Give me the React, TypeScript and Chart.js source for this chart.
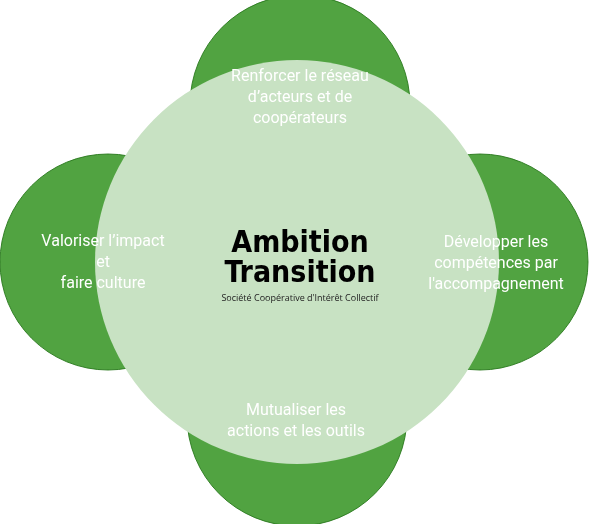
import { useEffect, useRef } from "react";
import Chart from "chart.js/auto";
import { BubbleController } from "chart.js";

// bubble controller that does not shrink the chart area by the bubble radius
class FlatBubble extends BubbleController {
  static id = "flatBubble";
  getMaxOverflow() {
    return 0 as any;
  }
}
Chart.register(FlatBubble);

const W = 589;
const H = 524;

// big background halo
const haloCenter = { x: 297, y: 262, r: 202 };
// the four petals
const petalX = [300, 480, 108, 297];
const petalY = [105, 262, 262, 416];
const petalR = [110, 108, 108, 110];
const petalLabels = [
  ["Renforcer le réseau", "d’acteurs et de", "coopérateurs"],
  ["Développer les", "compétences par", "l'accompagnement"],
  ["Valoriser l’impact", "et", "faire culture"],
  ["Mutualiser les", "actions et les outils"],
];
const labelX = [300, 496, 103, 296];
const labelY = [77, 243, 242, 411];
// middle ring + white disc
const ringR = 113;
const discR = 101;
const centerX = 297;
const centerY = 265;

const titleLines = ["Ambition", "Transition"];
const subtitle = "Société Coopérative d'Intérêt Collectif";

export default function App() {
  const canvasRef = useRef<HTMLCanvasElement | null>(null);
  const chartRef = useRef<Chart | null>(null);

  useEffect(() => {
    const canvas = canvasRef.current;
    if (!canvas) return;
    if (chartRef.current) chartRef.current.destroy();

    const textPlugin = {
      id: "texts",
      afterDatasetsDraw(chart: any) {
        const { ctx } = chart;
        const xs = chart.scales.x;
        const ys = chart.scales.y;
        ctx.save();
        ctx.textAlign = "center";
        ctx.textBaseline = "middle";
        ctx.fillStyle = "#ffffff";
        ctx.font = "16px Roboto";
        petalLabels.forEach((lines, i) => {
          lines.forEach((t, j) => {
            ctx.fillText(t, xs.getPixelForValue(labelX[i]), ys.getPixelForValue(labelY[i] + j * 21));
          });
        });
        const cx = xs.getPixelForValue(centerX);
        ctx.fillStyle = "#000000";
        ctx.font = "bold 30px 'DejaVu Sans Condensed', 'DejaVu Sans'";
        ctx.fillText(titleLines[0], cx + 3, ys.getPixelForValue(244));
        ctx.fillText(titleLines[1], cx + 3, ys.getPixelForValue(274));
        ctx.font = "9px 'Open Sans'";
        ctx.fillStyle = "#222";
        ctx.fillText(subtitle, cx + 3, ys.getPixelForValue(298));
        ctx.restore();
      },
    };

    chartRef.current = new Chart(canvas, {
      type: "flatBubble" as any,
      data: {
        datasets: [
          {
            data: [{ x: haloCenter.x, y: haloCenter.y, r: haloCenter.r }],
            backgroundColor: "#c8e2c3",
            borderWidth: 0,
          },
          {
            data: petalX.map((x, i) => ({ x, y: petalY[i], r: petalR[i] })),
            backgroundColor: "rgba(52,148,34,0.86)",
            borderColor: "rgba(40,120,28,0.9)",
            borderWidth: 1,
          },
          {
            data: [{ x: centerX, y: centerY, r: ringR }],
            backgroundColor: "#c8e2c3",
            borderColor: "#3a8a2c",
            borderWidth: 1.5,
          },
          {
            data: [{ x: centerX, y: centerY, r: discR }],
            backgroundColor: "#ffffff",
            borderWidth: 0,
          },
        ],
      },
      options: {
        animation: false,
        responsive: false,
        layout: { padding: 0 },
        plugins: { legend: { display: false }, tooltip: { enabled: false } },
        scales: {
          x: { type: "linear", min: 0, max: W, display: false },
          y: { type: "linear", min: 0, max: H, reverse: true, display: false },
        },
      },
      plugins: [textPlugin],
    });

    return () => {
      chartRef.current?.destroy();
      chartRef.current = null;
    };
  }, []);

  return (
    <div style={{ position: "absolute", left: 0, top: 0, width: W, height: H, background: "#fff" }}>
      <canvas ref={canvasRef} width={W} height={H} style={{ width: W, height: H }} />
    </div>
  );
}
